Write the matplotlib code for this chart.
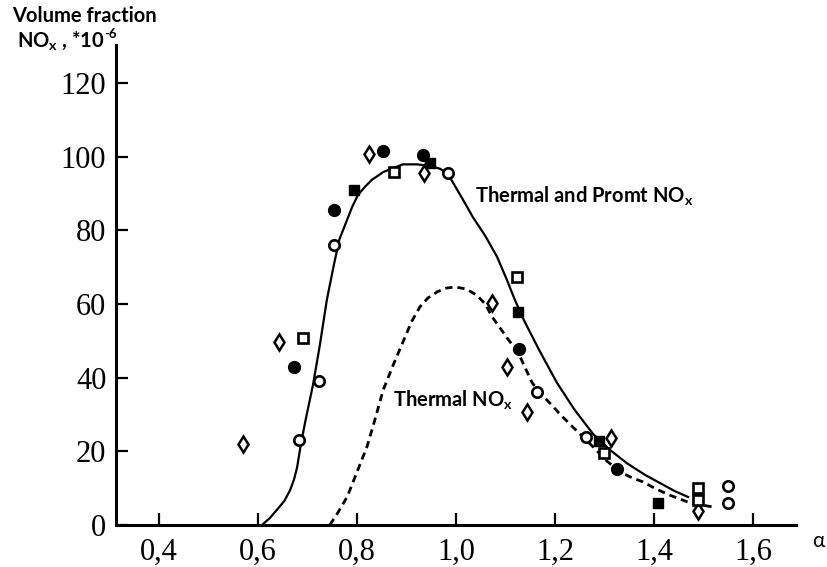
import matplotlib.pyplot as plt

plt.rcParams['mathtext.fontset'] = 'custom'
plt.rcParams['mathtext.rm'] = 'Lato'
plt.rcParams['mathtext.bf'] = 'Lato:bold'

# measured points, alpha vs NOx (*10^-6)
diamond_a = [0.570, 0.642, 0.824, 0.935, 1.073, 1.103, 1.143, 1.313, 1.489]
diamond_y = [22.0, 49.7, 100.7, 95.6, 60.3, 42.9, 30.7, 23.6, 3.8]

ocirc_a = [0.683, 0.723, 0.754, 0.984, 1.164, 1.263, 1.549, 1.549]
ocirc_y = [23.1, 39.1, 76.0, 95.6, 36.1, 23.9, 10.6, 6.0]

fcirc_a = [0.673, 0.754, 0.853, 0.933, 1.127, 1.325]
fcirc_y = [42.9, 85.5, 101.5, 100.5, 47.8, 15.2]

osq_a = [0.691, 0.875, 1.123, 1.299, 1.489, 1.489]
osq_y = [50.8, 95.8, 67.3, 19.5, 10.0, 6.8]

fsq_a = [0.794, 0.947, 1.125, 1.289, 1.408]
fsq_y = [91.0, 98.3, 57.8, 22.8, 6.0]

# thermal + prompt NOx curve
total_a = [0.608, 0.624, 0.638, 0.653, 0.665, 0.673, 0.679, 0.683, 0.687, 0.697,
           0.711, 0.725, 0.739, 0.752, 0.764, 0.776, 0.790, 0.802, 0.816, 0.830,
           0.853, 0.873, 0.893, 0.921, 0.947, 0.968, 0.984, 0.998, 1.012, 1.034,
           1.059, 1.083, 1.103, 1.119, 1.139, 1.170, 1.204, 1.240, 1.277, 1.311,
           1.345, 1.382, 1.412, 1.442, 1.469]
total_y = [0.0, 1.9, 4.1, 6.5, 9.5, 12.5, 15.7, 19.0, 22.3, 29.1,
           38.0, 48.9, 61.1, 69.8, 77.4, 81.5, 86.3, 89.6, 91.8, 93.7,
           95.8, 96.9, 97.9, 97.9, 97.5, 96.7, 95.3, 92.0, 88.8, 83.6,
           78.5, 72.8, 66.5, 61.1, 55.1, 47.0, 38.6, 31.2, 24.7, 20.4,
           16.8, 13.6, 11.4, 9.2, 7.6]

# thermal NOx curve
thermal_a = [0.745, 0.762, 0.780, 0.800, 0.820, 0.836, 0.853, 0.873, 0.897, 0.911,
             0.927, 0.943, 0.962, 0.980, 0.998, 1.020, 1.042, 1.059, 1.073, 1.089,
             1.103, 1.125, 1.139, 1.154, 1.170, 1.184, 1.210, 1.236, 1.257, 1.277,
             1.303, 1.331, 1.356, 1.378, 1.404, 1.432, 1.473, 1.519]
thermal_y = [0.0, 3.5, 7.6, 14.4, 21.2, 28.5, 36.7, 43.4, 51.0, 55.4,
             59.2, 61.6, 63.3, 64.3, 64.6, 64.1, 62.4, 60.0, 56.5, 53.5,
             50.8, 47.0, 42.9, 38.6, 35.8, 33.9, 30.1, 26.6, 23.9, 21.2,
             17.6, 14.4, 12.8, 11.7, 9.8, 8.1, 6.0, 4.9]

x_ticks = [0.4, 0.6, 0.8, 1.0, 1.2, 1.4, 1.6]
y_ticks = [0, 20, 40, 60, 80, 100, 120]

fig = plt.figure(figsize=(8.27, 5.67), dpi=100)
ax = fig.add_axes([116 / 827, 1 - 525 / 567, 680 / 827, 480 / 567])

ax.plot(total_a, total_y, color='black', lw=1.6, solid_joinstyle='round', zorder=2)
ax.plot(thermal_a, thermal_y, color='black', lw=2.0, dashes=(2.6, 1.8), zorder=2)

mk = dict(ls='none', color='black', zorder=3)
ax.plot(diamond_a, diamond_y, marker='d', ms=8.5, mfc='white', mec='black', mew=1.8, **mk)
ax.plot(ocirc_a, ocirc_y, marker='o', ms=7.5, mfc='white', mec='black', mew=1.9, **mk)
ax.plot(osq_a, osq_y, marker='s', ms=7.0, mfc='white', mec='black', mew=1.9, **mk)
ax.plot(fcirc_a, fcirc_y, marker='o', ms=8.5, mfc='black', mec='black', **mk)
ax.plot(fsq_a, fsq_y, marker='s', ms=7.5, mfc='black', mec='black', **mk)

ax.set_xlim(0.313, 1.687)
ax.set_ylim(0, 130.3)
ax.set_xticks(x_ticks)
ax.set_xticklabels([f"{v:.1f}".replace('.', ',') for v in x_ticks])
ax.set_yticks(y_ticks)
ax.set_yticklabels([str(v) for v in y_ticks])

for s in ['top', 'right']:
    ax.spines[s].set_visible(False)
for s in ['left', 'bottom']:
    ax.spines[s].set_linewidth(2.2)
ax.tick_params(direction='in', length=8.6, width=1.6, labelsize=22)
ax.tick_params(axis='x', pad=9)
ax.tick_params(axis='y', pad=7)
for lab in ax.get_xticklabels() + ax.get_yticklabels():
    lab.set_fontfamily('Liberation Serif')

# curve labels
ax.text(1.038, 87.4, r"Thermal and Promt NO$_\mathbf{x}$", fontsize=14.5,
        fontweight='bold', family='Lato', va='baseline')
ax.text(0.873, 32.0, r"Thermal NO$_\mathbf{x}$", fontsize=14.5,
        fontweight='bold', family='Lato', va='baseline')

# axis titles
fig.text(12 / 827, 1 - 22 / 567, "Volume fraction", fontsize=14.5,
         fontweight='bold', family='Lato', va='baseline')
fig.text(17 / 827, 1 - 47 / 567, r"NO$_\mathbf{x}$ , *10", fontsize=14.5,
         fontweight='bold', family='Lato', va='baseline')
fig.text(104 / 827, 1 - 38 / 567, "-6", fontsize=9.5,
         fontweight='bold', family='Lato', va='baseline')
fig.text(812 / 827, 1 - 541 / 567, "α", fontsize=15, family='Lato', va='center')

fig.savefig('out.png', dpi=100)
